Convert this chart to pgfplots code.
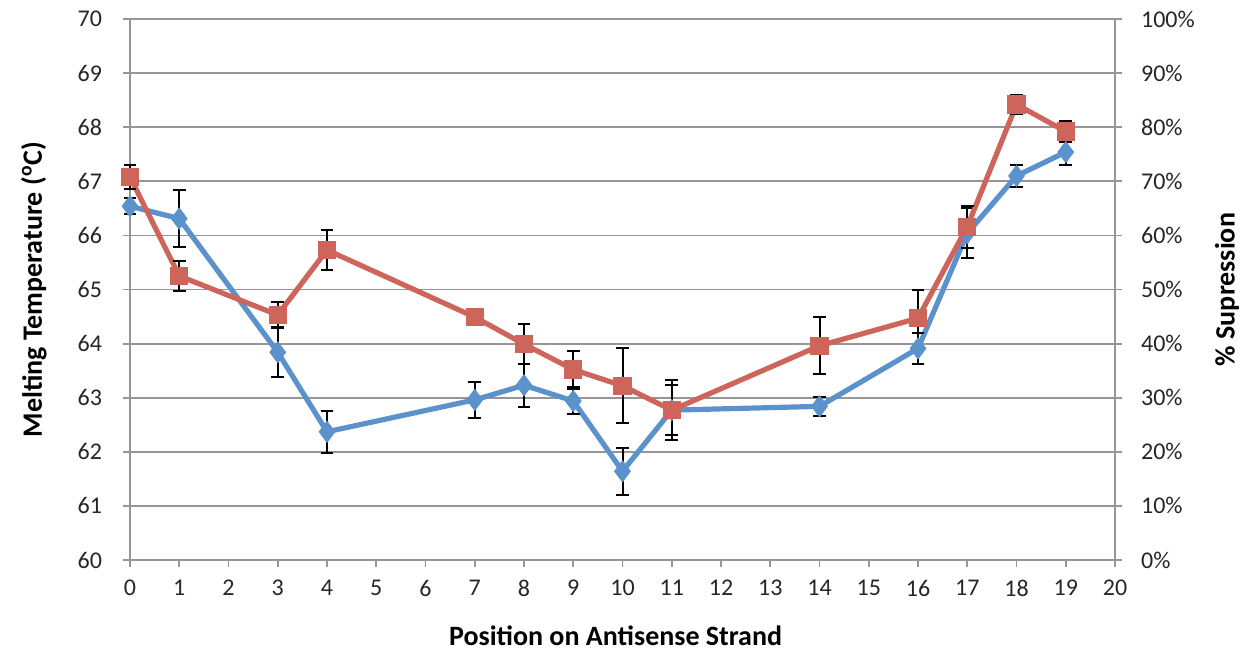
\documentclass[border=0pt]{standalone}
\usepackage{pgfplots}
\pgfplotsset{compat=1.18}
\usepackage{pgfplotstable}
\usepackage{fontspec}
\setmainfont{Carlito}
\definecolor{sblue}{RGB}{91,146,203}
\definecolor{sred}{RGB}{206,101,90}
\definecolor{gridgray}{RGB}{150,150,150}
\pgfplotstableread{
x y e
0 66.54 0.15
1 66.31 0.52
3 63.84 0.45
4 62.37 0.39
7 62.96 0.33
8 63.23 0.40
9 62.94 0.25
10 61.64 0.43
11 62.77 0.46
14 62.84 0.17
16 63.91 0.28
17 66.04 0.46
18 67.10 0.21
19 67.54 0.24
}\blue
\pgfplotstableread{
x y e
0 67.08 0.23
1 65.25 0.28
3 64.53 0.23
4 65.73 0.37
7 64.49 0.0
8 63.99 0.37
9 63.52 0.35
10 63.22 0.69
11 62.77 0.55
14 63.96 0.53
16 64.47 0.52
17 66.16 0.39
18 68.42 0.18
19 67.92 0.19
}\red
\begin{document}
\begin{tikzpicture}
\useasboundingbox (0,0) rectangle (623.5pt,327pt);
\begin{axis}[
  at={(65pt,47pt)}, anchor=south west, scale only axis,
  width=492.5pt, height=270.5pt,
  xmin=0, xmax=20, ymin=60, ymax=70,
  xtick={0,1,...,20}, ytick={60,61,...,70},
  ymajorgrids, grid style={gridgray, line width=0.9pt},
  axis x line*=bottom, axis y line*=left,
  axis line style={gridgray, line width=0.9pt, -},
  tick style={gridgray, line width=0.9pt},
  tick align=outside, major tick length=3.5pt,
  /pgf/number format/assume math mode=true,
  ticklabel style={font=\fontsize{12}{14}\selectfont, text=black!85},
  xticklabel style={yshift=-3pt},
  yticklabel style={xshift=-7pt},
  xlabel={Position on Antisense Strand},
  ylabel={Melting Temperature (\textsuperscript{o}C)},
  label style={font=\bfseries\fontsize{14}{16}\selectfont},
  xlabel style={at={(axis description cs:0.493,-0.1405)}, anchor=center},
  ylabel style={at={(axis description cs:-0.0975,0.5)}, anchor=center},
  clip=false,
]
\addplot[color=sblue, line width=2.6pt, mark=diamond*, mark size=5.2pt,
  mark options={fill=sblue, draw=sblue, line width=0.5pt},
  error bars/.cd, y dir=both, y explicit,
  error bar style={black, line width=1pt},
  error mark options={rotate=90, black, mark size=3.2pt, line width=1pt}]
  table[x=x, y=y, y error=e] {\blue};
\addplot[color=sred, line width=2.6pt, mark=square*, mark size=4.3pt,
  mark options={fill=sred, draw=sred, line width=0.5pt},
  error bars/.cd, y dir=both, y explicit,
  error bar style={black, line width=1pt},
  error mark options={rotate=90, black, mark size=3.2pt, line width=1pt}]
  table[x=x, y=y, y error=e] {\red};
\end{axis}
\begin{axis}[
  at={(65pt,47pt)}, anchor=south west, scale only axis,
  width=492.5pt, height=270.5pt,
  xmin=0, xmax=20, ymin=0, ymax=100,
  axis x line=none, axis y line*=right,
  axis line style={gridgray, line width=0.9pt, -},
  tick style={gridgray, line width=0.9pt},
  tick align=center, major tick length=7pt,
  ytick={0,10,...,100},
  yticklabel={\pgfmathprintnumber{\tick}\%},
  /pgf/number format/assume math mode=true,
  ticklabel style={font=\fontsize{12}{14}\selectfont, text=black!85},
  yticklabel style={xshift=6pt},
  ylabel={\% Supression},
  label style={font=\bfseries\fontsize{14}{16}\selectfont},
  ylabel style={at={(axis description cs:1.1137,0.5)}, anchor=center},
]
\end{axis}
\end{tikzpicture}
\end{document}
